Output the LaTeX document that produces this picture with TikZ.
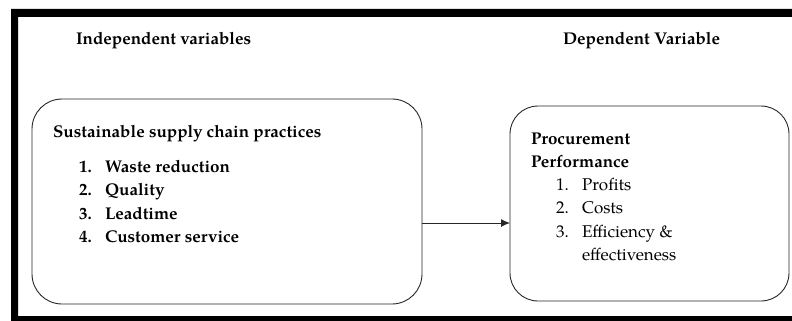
\documentclass[tikz,border=0pt]{standalone}
\usepackage{fontspec}
\setmainfont{TeX Gyre Pagella}
\usetikzlibrary{arrows.meta}
\tikzset{
  box/.style={draw=black!85, line width=0.9pt, inner sep=0pt, outer sep=0pt},
  lbl/.style={anchor=base west, inner sep=0pt, outer sep=0pt, font=\fontsize{17}{20}\selectfont\bfseries},
  item/.style={anchor=base west, inner sep=0pt, outer sep=0pt, font=\fontsize{17}{20}\selectfont},
  conn/.style={draw=black!85, line width=0.9pt, -{Latex[length=9pt,width=8pt]}}
}
\begin{document}
\begin{tikzpicture}[x=1pt,y=-1pt]
\useasboundingbox (0,0) rectangle (792,321);
\begin{scope}
\clip (0,0) rectangle (792,321);
\fill[black,even odd rule] (11,9) rectangle (800,330) (18,17) rectangle (800,316);
\end{scope}
% boxes
\node[box, rounded corners=30pt, minimum width=390pt, minimum height=205pt] (L) at (227,201.5) {};
\node[box, rounded corners=28pt, minimum width=279pt, minimum height=195pt] (R) at (649.5,203.5) {};
% headings
\node[lbl] (indep) at (76,45) {Independent variables};
\node[lbl] (dep) at (563,45) {Dependent Variable};
% left content
\node[lbl] (ssc) at (53,137) {Sustainable supply chain practices};
\node[lbl] (n1) at (79,172) {1.};
\node[lbl] (t1) at (105,172) {Waste reduction};
\node[lbl] (n2) at (79,195.5) {2.};
\node[lbl] (t2) at (105,195.5) {Quality};
\node[lbl] (n3) at (79,219) {3.};
\node[lbl] (t3) at (105,219) {Leadtime};
\node[lbl] (n4) at (79,242) {4.};
\node[lbl] (t4) at (105,242) {Customer service};
% right content
\node[lbl] (pr1) at (531,144) {Procurement};
\node[lbl] (pr2) at (531,167) {Performance};
\node[item] (m1) at (556,190) {1.};
\node[item] (s1) at (582,190) {Profits};
\node[item] (m2) at (556,213) {2.};
\node[item] (s2) at (582,213) {Costs};
\node[item] (m3) at (556,237) {3.};
\node[item] (s3) at (582,237) {Efficiency \&};
\node[item] (s3b) at (582,260) {effectiveness};
% arrow
\coordinate (ay) at (0,223);
\draw[conn] (L.east |- ay) -- (R.west |- ay);
\end{tikzpicture}
\end{document}
